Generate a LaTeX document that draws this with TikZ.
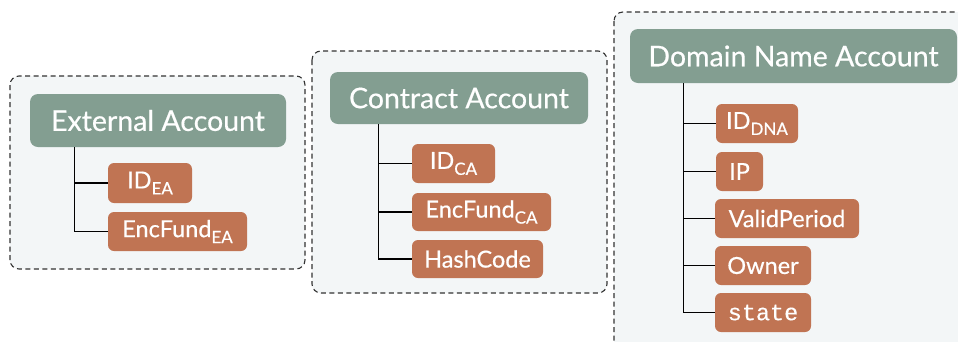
\documentclass[tikz,border=0pt]{standalone}
\usepackage{fontspec}
\setmainfont{Lato}[FakeBold=0.5]
\setmonofont{Liberation Mono}[FakeBold=0.3]
\definecolor{headc}{HTML}{839E91}
\definecolor{fieldc}{HTML}{C07453}
\definecolor{bgc}{HTML}{F3F6F7}
\newcommand{\sbs}[1]{\raisebox{-6pt}{\fontsize{17}{18}\selectfont #1}}
\begin{document}
\begin{tikzpicture}[x=1pt,y=-1pt,
  group/.style={draw=black!80, dash pattern=on 5pt off 3.5pt, fill=bgc, rounded corners=9pt, line width=1.1pt},
  head/.style={fill=headc, text=white, rounded corners=8pt, font=\fontsize{28.5}{32}\selectfont, inner sep=0pt},
  field/.style={fill=fieldc, text=white, rounded corners=6pt, font=\fontsize{23.5}{26}\selectfont, inner sep=0pt},
  link/.style={line width=1.3pt, black}]
\useasboundingbox (0,0) rectangle (958,341);
\clip (0,0) rectangle (958,341);
\fill[white] (0,0) rectangle (958,341);
% groups
\draw[group] (10,76) rectangle (305,269);
\draw[group] (312,51) rectangle (607,293);
\draw[group] (614,12) rectangle (985,370);
% group 1
\node[head, minimum width=256pt, minimum height=53pt] (h1) at (158,120.5) {External Account};
\node[field, minimum width=84pt, minimum height=40pt] (a1) at (150,183) {ID\sbs{EA}};
\node[field, minimum width=139pt, minimum height=39pt] (a2) at (177.5,231.5) {EncFund\sbs{EA}};
\coordinate (t1) at ([xshift=45pt]h1.south west);
\draw[link] (t1) |- (a1.west);
\draw[link] (t1) |- (a2.west);
% group 2
\node[head, minimum width=258pt, minimum height=52pt] (h2) at (459,98) {Contract Account};
\node[field, minimum width=83pt, minimum height=39pt] (b1) at (453.5,163.5) {ID\sbs{CA}};
\node[field, minimum width=139pt, minimum height=38pt] (b2) at (481.5,212) {EncFund\sbs{CA}};
\node[field, minimum width=131pt, minimum height=38pt] (b3) at (477.5,259) {HashCode};
\coordinate (t2) at ([xshift=49pt]h2.south west);
\draw[link] (t2) |- (b1.west);
\draw[link] (t2) |- (b2.west);
\draw[link] (t2) |- (b3.west);
% group 3
\node[head, minimum width=327pt, minimum height=54pt] (h3) at (793.5,56) {Domain Name Account};
\node[field, minimum width=82pt, minimum height=39pt] (c1) at (757,123.5) {ID\sbs{DNA}};
\node[field, minimum width=47pt, minimum height=39pt] (c2) at (739.5,171.5) {IP};
\node[field, minimum width=144pt, minimum height=39pt] (c3) at (787,218.5) {ValidPeriod};
\node[field, minimum width=96pt, minimum height=39pt] (c4) at (763,265.5) {Owner};
\node[field, minimum width=96pt, minimum height=39pt] (c5) at (763,312.5) {\texttt{state}};
\coordinate (t3) at ([xshift=54pt]h3.south west);
\foreach \n in {c1,c2,c3,c4,c5} \draw[link] (t3) |- (\n.west);
\end{tikzpicture}
\end{document}
